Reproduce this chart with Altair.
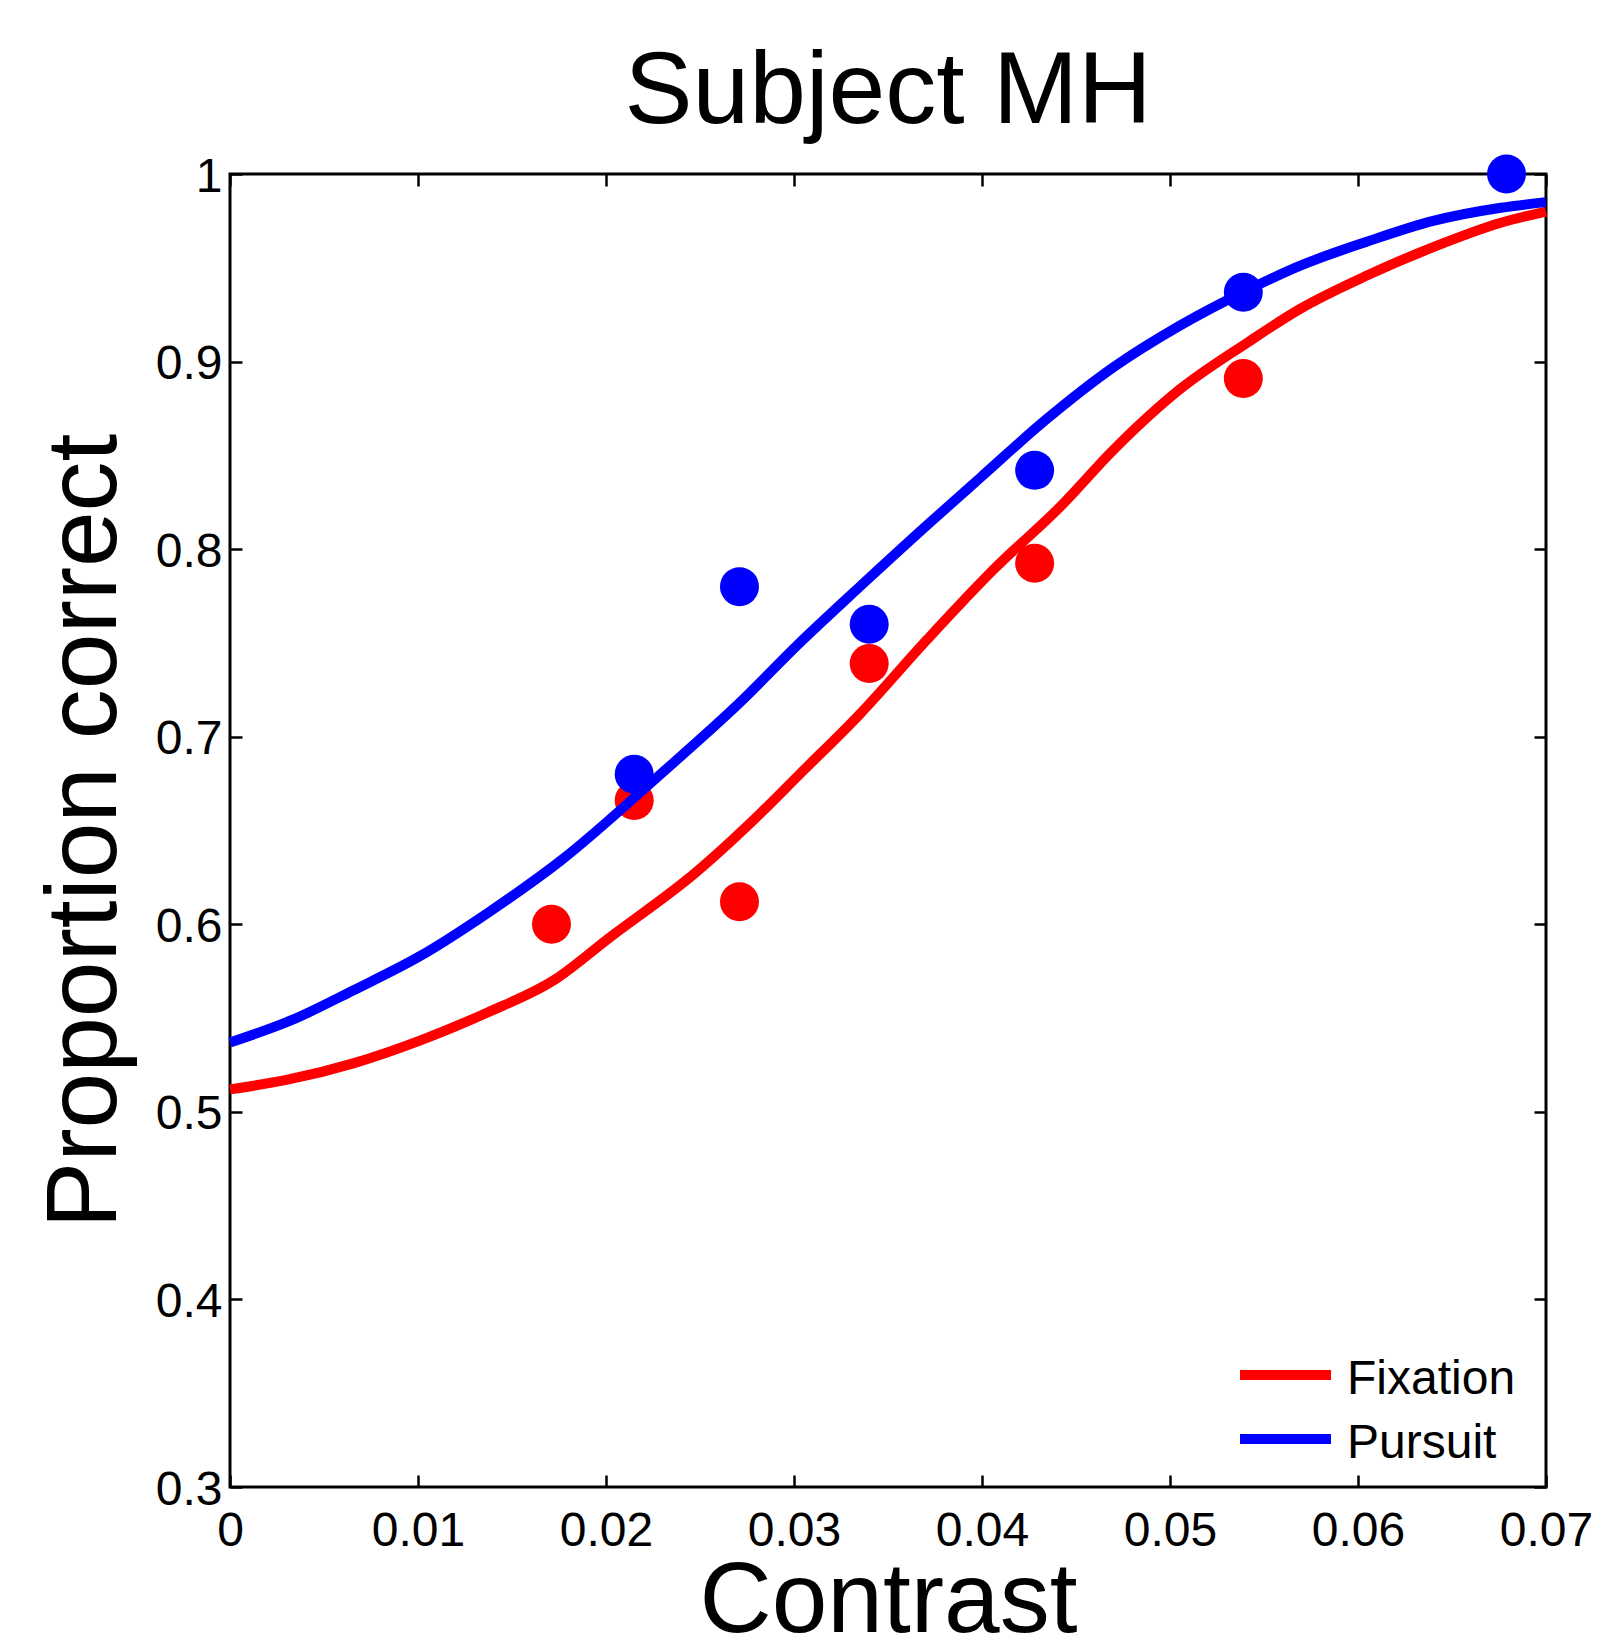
import altair as alt
import pandas as pd

# ---------------- data ----------------
conditions = ["Fixation", "Pursuit"]
line_colors = ["#ff0000", "#0000ff"]

x_ticks = [0, 0.01, 0.02, 0.03, 0.04, 0.05, 0.06, 0.07]
y_ticks = [0.3, 0.4, 0.5, 0.6, 0.7, 0.8, 0.9, 1.0]

# measured data points
fix_x = [0.0171, 0.0215, 0.0271, 0.0340, 0.0428, 0.0539]
fix_y = [0.600, 0.666, 0.612, 0.739, 0.7925, 0.891]
pur_x = [0.0215, 0.0271, 0.0340, 0.0428, 0.0539, 0.0679]
pur_y = [0.680, 0.780, 0.760, 0.842, 0.937, 1.000]

# fitted psychometric curves
fix_fit_x = [0, 0.003, 0.0066, 0.0101, 0.0137, 0.0172, 0.0202, 0.0247, 0.0282,
             0.0303, 0.0335, 0.0371, 0.0406, 0.0442, 0.0470, 0.0505, 0.0541,
             0.0569, 0.0605, 0.0640, 0.0676, 0.0700]
fix_fit_y = [0.512, 0.517, 0.526, 0.538, 0.553, 0.570, 0.593, 0.627, 0.659,
             0.680, 0.712, 0.752, 0.789, 0.823, 0.853, 0.885, 0.910,
             0.928, 0.946, 0.961, 0.974, 0.980]
pur_fit_x = [0, 0.0033, 0.0066, 0.0101, 0.0137, 0.0176, 0.0229, 0.0271, 0.0303,
             0.0335, 0.0371, 0.0399, 0.0434, 0.0470, 0.0505, 0.0541, 0.0569,
             0.0605, 0.0640, 0.0676, 0.0700]
pur_fit_y = [0.537, 0.549, 0.565, 0.583, 0.606, 0.634, 0.680, 0.718, 0.750,
             0.780, 0.813, 0.838, 0.869, 0.897, 0.919, 0.938, 0.951,
             0.964, 0.975, 0.982, 0.985]

pts_df = pd.DataFrame({
    "contrast": fix_x + pur_x,
    "p": fix_y + pur_y,
    "condition": ["Fixation"] * len(fix_x) + ["Pursuit"] * len(pur_x),
})
fit_df = pd.DataFrame({
    "contrast": fix_fit_x + pur_fit_x,
    "p": fix_fit_y + pur_fit_y,
    "condition": ["Fixation"] * len(fix_fit_x) + ["Pursuit"] * len(pur_fit_x),
})
legend_df = pd.DataFrame({"condition": conditions})

FONT = "Liberation Sans"
W, H = 1316, 1313
TICK = 12

xscale = alt.Scale(domain=[0, 0.07], nice=False, zero=False)
yscale = alt.Scale(domain=[0.3, 1.0], nice=False, zero=False)
cscale = alt.Scale(domain=conditions, range=line_colors)
# legend rows placed in the lower-right corner of the plot
legend_rows = alt.Scale(type="point", domain=conditions, range=[1201, 1265], padding=0)

# axes are shifted inward by the tick length so the ticks point into the plot
axis_bottom = alt.Axis(
    orient="bottom", values=x_ticks, format="~g", grid=False, domain=False,
    tickColor="black", tickWidth=2.5, tickSize=TICK, offset=-TICK,
    labelFont=FONT, labelFontSize=48, labelColor="black", labelPadding=20,
    labelFlush=False, labelOverlap=False,
    title="Contrast", titleFont=FONT, titleFontSize=100, titleFontWeight="normal",
    titleColor="black", titleX=W / 2, titleY=144 + TICK, titleBaseline="alphabetic",
    titleAlign="center", titleAngle=0,
)
axis_left = alt.Axis(
    orient="left", values=y_ticks, format="~g", grid=False, domain=False,
    tickColor="black", tickWidth=2.5, tickSize=TICK, offset=-TICK,
    labelFont=FONT, labelFontSize=48, labelColor="black", labelPadding=8,
    labelOffset=3, labelFlush=False, labelOverlap=False,
    title="Proportion correct", titleFont=FONT, titleFontSize=100,
    titleFontWeight="normal", titleColor="black", titleX=-115 - TICK, titleY=H / 2,
    titleAngle=270, titleBaseline="alphabetic", titleAlign="center",
)
axis_top = alt.Axis(
    orient="top", values=x_ticks, labels=False, title=None, grid=False,
    domain=False, tickColor="black", tickWidth=2.5, tickSize=TICK, offset=-TICK,
)
axis_right = alt.Axis(
    orient="right", values=y_ticks, labels=False, title=None, grid=False,
    domain=False, tickColor="black", tickWidth=2.5, tickSize=TICK, offset=-TICK,
)

points = alt.Chart(pts_df).mark_circle(size=1520, opacity=1).encode(
    x=alt.X("contrast:Q", scale=xscale, axis=axis_top),
    y=alt.Y("p:Q", scale=yscale, axis=axis_right),
    fill=alt.Fill("condition:N", scale=cscale, legend=None),
)

lines = alt.Chart(fit_df).mark_line(strokeWidth=10, interpolate="monotone").encode(
    x=alt.X("contrast:Q", scale=xscale, axis=axis_bottom),
    y=alt.Y("p:Q", scale=yscale, axis=axis_left),
    stroke=alt.Stroke("condition:N", scale=cscale, legend=None),
)

# legend: colour swatches and labels
legend_lines = alt.Chart(legend_df).mark_rule(strokeWidth=10).encode(
    x=alt.value(1010), x2=alt.value(1101),
    y=alt.Y("condition:N", scale=legend_rows, axis=None),
    stroke=alt.Stroke("condition:N", scale=cscale, legend=None),
)
legend_text = alt.Chart(legend_df).mark_text(
    align="left", baseline="middle", dy=5, font=FONT, fontSize=48, color="black",
).encode(
    x=alt.value(1117),
    y=alt.Y("condition:N", scale=legend_rows, axis=None),
    text="condition:N",
)

chart = (
    alt.layer(points, lines, legend_lines, legend_text)
    .resolve_axis(x="independent", y="independent")
    .resolve_scale(y="independent")
    .properties(
        width=W, height=H,
        title=alt.TitleParams("Subject MH", font=FONT, fontSize=102,
                              fontWeight="normal", color="black",
                              anchor="middle", baseline="alphabetic",
                              frame="group", offset=47, dy=119),
        autosize=alt.AutoSizeParams(type="none"),
        padding={"left": 222, "top": 166, "right": 46, "bottom": 146},
        background="white",
    )
    .configure_view(stroke="black", strokeWidth=3, fill="white")
)

chart.save("out.html", embed_options={"renderer": "svg", "actions": False})
